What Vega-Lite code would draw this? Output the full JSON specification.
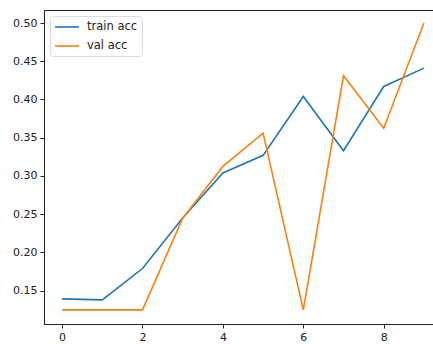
{
  "$schema": "https://vega.github.io/schema/vega-lite/v6.json",
  "autosize": "none",
  "width": 398,
  "height": 314,
  "padding": {"left": 44, "top": 10, "right": 0, "bottom": 20},
  "background": "white",
  "config": {
    "view": {"stroke": "#222", "strokeWidth": 1},
    "font": "DejaVu Sans",
    "axis": {
      "grid": false,
      "domainColor": "#222",
      "tickColor": "#222",
      "tickSize": 4,
      "labelFontSize": 11,
      "labelColor": "#222",
      "labelFont": "DejaVu Sans",
      "labelPadding": 3,
      "title": null
    }
  },
  "data": {
    "values": [
      {"epoch": 0, "acc": 0.1393, "series": "train acc"},
      {"epoch": 1, "acc": 0.138, "series": "train acc"},
      {"epoch": 2, "acc": 0.179, "series": "train acc"},
      {"epoch": 3, "acc": 0.245, "series": "train acc"},
      {"epoch": 4, "acc": 0.304, "series": "train acc"},
      {"epoch": 5, "acc": 0.327, "series": "train acc"},
      {"epoch": 6, "acc": 0.404, "series": "train acc"},
      {"epoch": 7, "acc": 0.333, "series": "train acc"},
      {"epoch": 8, "acc": 0.417, "series": "train acc"},
      {"epoch": 9, "acc": 0.441, "series": "train acc"},
      {"epoch": 0, "acc": 0.125, "series": "val acc"},
      {"epoch": 1, "acc": 0.125, "series": "val acc"},
      {"epoch": 2, "acc": 0.125, "series": "val acc"},
      {"epoch": 3, "acc": 0.245, "series": "val acc"},
      {"epoch": 4, "acc": 0.3125, "series": "val acc"},
      {"epoch": 5, "acc": 0.356, "series": "val acc"},
      {"epoch": 6, "acc": 0.125, "series": "val acc"},
      {"epoch": 7, "acc": 0.431, "series": "val acc"},
      {"epoch": 8, "acc": 0.3625, "series": "val acc"},
      {"epoch": 9, "acc": 0.5, "series": "val acc"}
    ]
  },
  "mark": {"type": "line", "strokeWidth": 1.6, "clip": true},
  "encoding": {
    "x": {
      "field": "epoch",
      "type": "quantitative",
      "scale": {"domain": [-0.45, 9.45], "nice": false, "zero": false},
      "axis": {"values": [0, 2, 4, 6, 8], "format": "d"}
    },
    "y": {
      "field": "acc",
      "type": "quantitative",
      "scale": {"domain": [0.1065, 0.517], "nice": false, "zero": false},
      "axis": {"values": [0.15, 0.2, 0.25, 0.3, 0.35, 0.4, 0.45, 0.5], "format": ".2f"}
    },
    "color": {
      "field": "series",
      "type": "nominal",
      "scale": {"domain": ["train acc", "val acc"], "range": ["#1f77b4", "#ff7f0e"]},
      "legend": {
        "title": null,
        "orient": "none",
        "legendX": 6,
        "legendY": 6,
        "symbolType": "M-1,0H3",
        "symbolSize": 144,
        "symbolStrokeWidth": 1.6,
        "symbolFillColor": "transparent",
        "labelOffset": 19,
        "labelFontSize": 11.5,
        "labelColor": "#222",
        "labelFont": "DejaVu Sans",
        "fillColor": "white",
        "strokeColor": "#ddd",
        "cornerRadius": 3,
        "padding": 4,
        "rowPadding": 6
      }
    }
  }
}
